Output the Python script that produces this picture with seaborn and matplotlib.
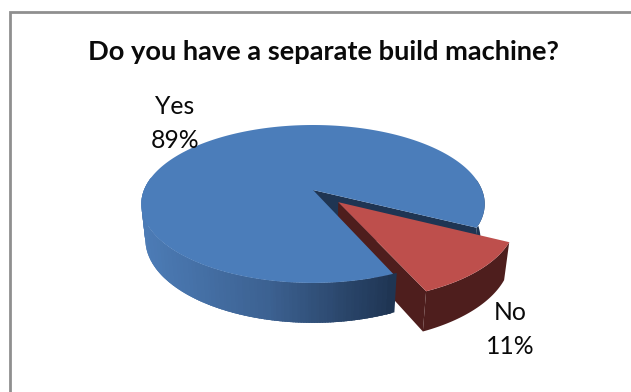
import numpy as np
import matplotlib
matplotlib.use("Agg")
import matplotlib.pyplot as plt
import seaborn as sns

# Survey result
categories = ["Yes", "No"]
shares = [89, 11]
title = "Do you have a separate build machine?"

sns.set_theme(style="white")
plt.rcParams["font.family"] = ["Lato", "DejaVu Sans"]

BLUE_TOP, RED_TOP = "#4b7dba", "#be4f4c"
BLUE_WALL, RED_WALL = "#1f3553", "#4e1e1d"
blue_rim = sns.blend_palette(["#4c7bb5", "#3c6191", BLUE_WALL], 64)


def project(x, y, h=0.0):
    """Perspective projection of a disc point at depth h onto figure pixels."""
    w = 1 + 0.177 * y + 0.024 * h
    return 313 + 169 * x / w, 190 + (-76.5 * y + 36 * h) / w


def rim(a0, a1, dx=0.0, dy=0.0, n=120):
    t = np.radians(np.linspace(a0, a1, n))
    return np.cos(t) + dx, np.sin(t) + dy


def wall(ax, xs, ys, color, z):
    top = project(xs, ys)
    bottom = project(xs[::-1], ys[::-1], 1.0)
    ax.fill(np.r_[top[0], bottom[0]], np.r_[top[1], bottom[1]], color=color, lw=0, zorder=z)


fig = plt.figure(figsize=(6.31, 3.92), dpi=100)
ax = fig.add_axes([0, 0, 1, 1])
ax.set_xlim(0, 631)
ax.set_ylim(392, 0)
ax.axis("off")

# Only the top and left edges of the chart border are present
ax.plot([10, 10, 631], [392, 11.5, 11.5], color="#8f8f8f", lw=2.0, solid_joinstyle="miter", zorder=0)

# Slice angles run clockwise; "No" is centred on the exploded direction
sweep = 360 * shares[1] / sum(shares)
no_start = -27.0
no_end = no_start - sweep
mid = np.radians((no_start + no_end) / 2)
ex, ey = 0.212 * np.cos(mid), 0.212 * np.sin(mid)

# Back part of the "Yes" slice: right-hand rim and the exposed cut face
xs, ys = rim(no_start, 8)
wall(ax, xs, ys, BLUE_WALL, 1)
wall(ax, np.array([0, np.cos(np.radians(no_start))]), np.array([0, np.sin(np.radians(no_start))]), BLUE_WALL, 1)

# "No" slice, pulled out of the pie
xs, ys = rim(no_end, no_start, ex, ey)
wall(ax, xs, ys, RED_WALL, 2)
wall(ax, np.array([ex, xs[0]]), np.array([ey, ys[0]]), RED_WALL, 2)
tx, ty = project(np.r_[ex, xs], np.r_[ey, ys])
ax.fill(tx, ty, color=RED_TOP, lw=0, zorder=3)

# Front rim of the "Yes" slice, shaded strip by strip from right to left,
# each strip overlapping the next so no seams show
edges = np.linspace(no_end, -190, 161)
step = edges[1] - edges[0]
for a0 in edges[:0:-1]:
    xs, ys = rim(a0, a0 - 2.5 * step, n=5)
    top = project(xs, ys)
    bottom = project(xs[::-1], ys[::-1], 1.0)
    shade = blue_rim[int(np.clip((top[0].mean() - 145) / (393 - 145), 0, 1) * 63)]
    ax.fill(np.r_[top[0], bottom[0]], np.r_[top[1], bottom[1]], color=shade, lw=0, zorder=4)
xs, ys = rim(no_end, no_end + 2 * step, n=5)
top = project(xs, ys)
bottom = project(xs[::-1], ys[::-1], 1.0)
ax.fill(np.r_[top[0], bottom[0]], np.r_[top[1], bottom[1]], color=BLUE_WALL, lw=0, zorder=4)

# Top face of the "Yes" slice
xs, ys = rim(no_start, no_end + 360, n=400)
tx, ty = project(np.r_[0, xs], np.r_[0, ys])
ax.fill(tx, ty, color=BLUE_TOP, lw=0, zorder=5)

ink = "#0a0a0a"
ax.text(324, 60, title, ha="center", va="baseline", fontsize=19.6, fontweight="bold", color=ink, zorder=6)
ax.text(175, 123.5, f"{categories[0]}\n{shares[0]}%", ha="center", va="center", fontsize=17.8,
        linespacing=1.6, color=ink, zorder=6)
ax.text(510, 329.5, f"{categories[1]}\n{shares[1]}%", ha="center", va="center", fontsize=17.8,
        linespacing=1.55, color=ink, zorder=6)

fig.savefig("out.png", dpi=100)
